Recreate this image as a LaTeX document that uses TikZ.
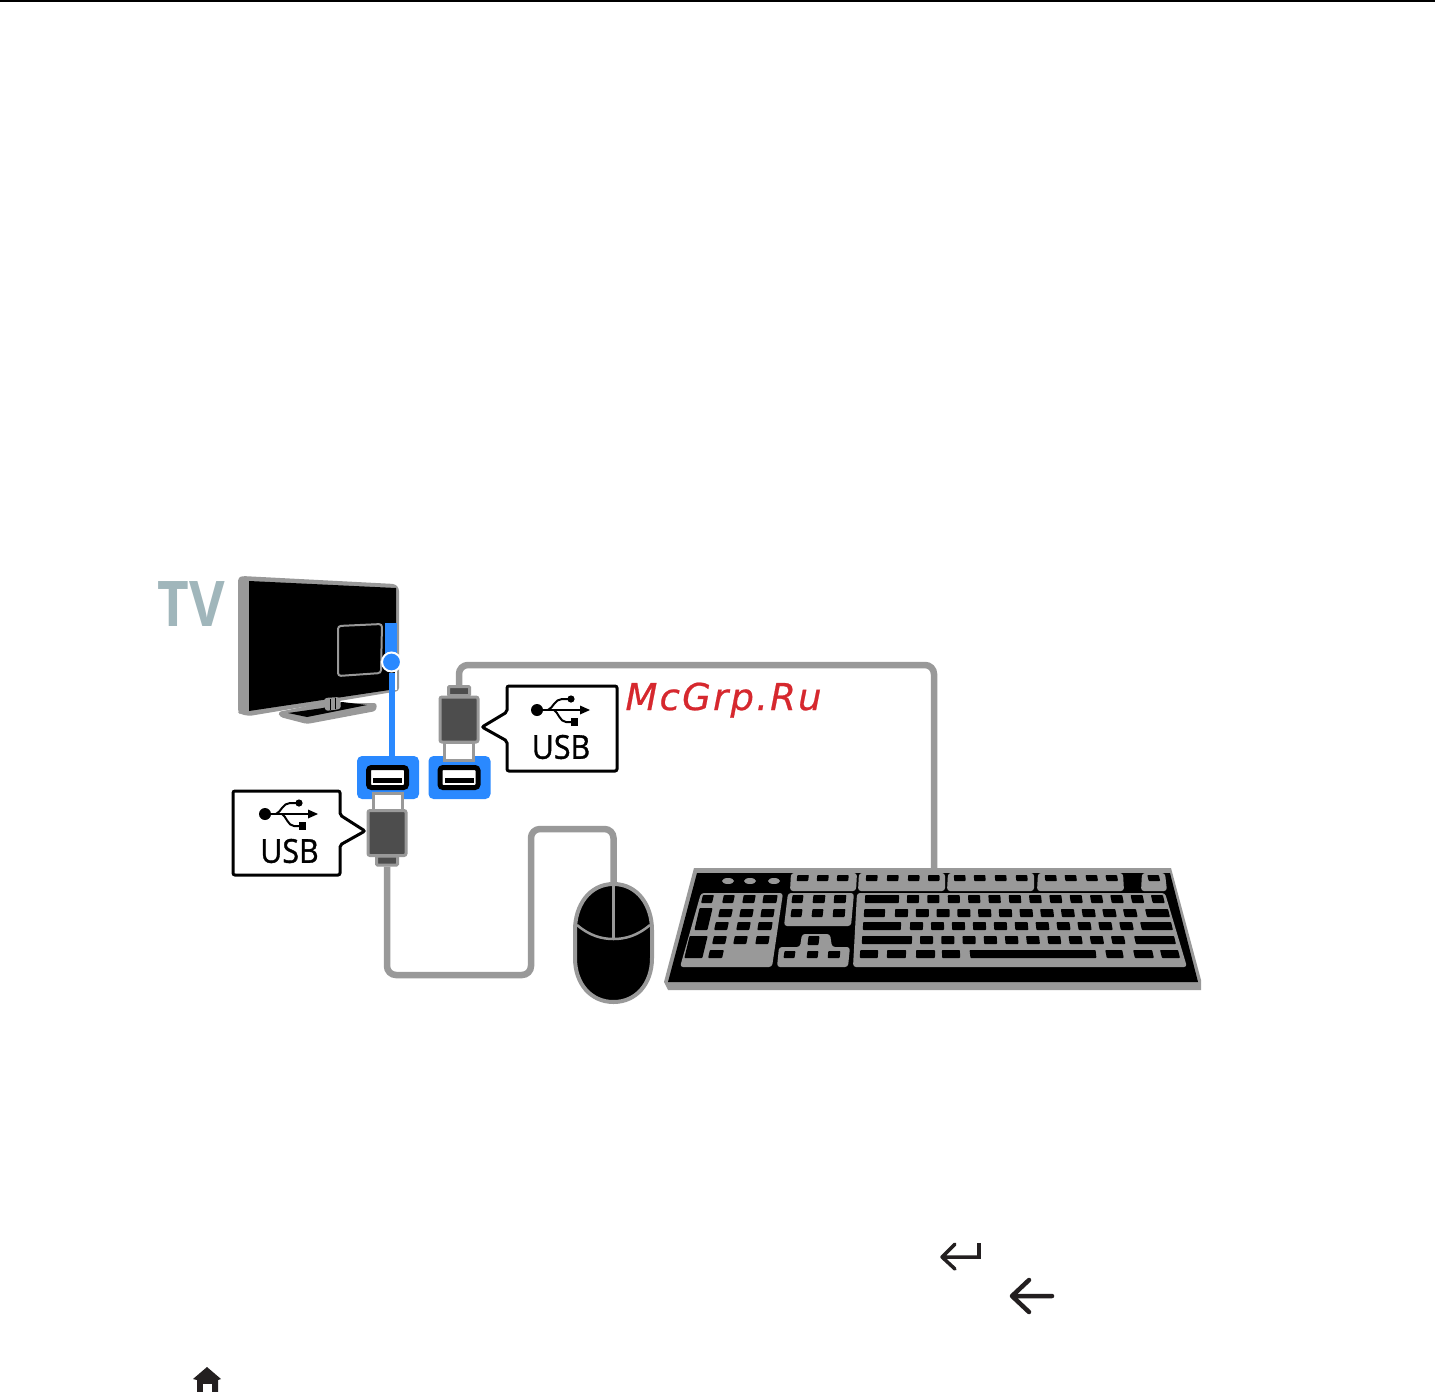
\documentclass[tikz,border=0pt]{standalone}
\usepackage{fontspec}
\setmainfont{Open Sans}
\newfontfamily\markfont[LetterSpace=6, FakeBold=0.6]{DejaVu Sans}
\newfontfamily\usbfont[FakeBold=1.2]{Open Sans}
\usetikzlibrary{shapes.geometric, arrows.meta, positioning, calc}
\definecolor{cablegray}{RGB}{153, 153, 153}
\definecolor{plugdark}{RGB}{77, 77, 77}
\definecolor{portblue}{RGB}{42, 137, 255}
\definecolor{labelgray}{RGB}{160, 182, 187}
\definecolor{markred}{RGB}{214, 40, 46}
\definecolor{icondark}{RGB}{35, 31, 32}
\tikzset{
    cable/.style={draw=cablegray, line width=6.5pt, rounded corners=9pt},
    bluewire/.style={draw=portblue, line width=6pt},
    portbox/.style={draw=none, fill=portblue, rounded corners=5pt, minimum width=62pt, minimum height=43pt, inner sep=0pt},
    socket/.style={draw=black, line width=5pt, fill=white, rounded corners=3pt, minimum width=38pt, minimum height=20pt, inner sep=0pt},
    socketbar/.style={draw=none, fill=black, minimum width=29pt, minimum height=5pt, inner sep=0pt},
    plugneck/.style={draw=cablegray, line width=3pt, fill=white, minimum width=29pt, minimum height=18pt, inner sep=0pt},
    plugbody/.style={draw=cablegray, line width=3pt, fill=plugdark, rounded corners=2pt, minimum width=38pt, minimum height=45pt, inner sep=0pt},
    plugtail/.style={draw=cablegray, line width=3pt, fill=plugdark, rounded corners=1pt, minimum width=21pt, minimum height=9pt, inner sep=0pt},
    callout/.style={draw=black, line width=3pt, fill=white, rounded corners=2pt},
    usbtext/.style={font=\usbfont\fontsize{33}{33}\selectfont, xscale=0.92, inner sep=0pt},
    kbdgray/.style={fill=cablegray, rounded corners=3pt},
    icon/.style={draw=icondark, line cap=round, line join=round},
}
\newcommand{\keycap}[4]{%
    \pgfmathsetmacro{\kxa}{#1}%
    \pgfmathsetmacro{\kxb}{#2}%
    \pgfmathsetmacro{\kskew}{((\kxa+\kxb)/2-930)/270*0.14*(#4-#3)}%
    \fill[black, rounded corners=0.8pt] (\kxa-\kskew,#3) -- (\kxb-\kskew,#3) -- (\kxb+\kskew,#4) -- (\kxa+\kskew,#4) -- cycle;%
}
\newcommand{\usbicon}[2]{%
    \begin{scope}[shift={(#1,#2)}]
        \fill[black] (0,0) circle (6);
        \draw[black, line width=2pt] (0,0) -- (46,0);
        \fill[black] (53,0) -- (43,-4.5) -- (43,4.5) -- cycle;
        \draw[black, line width=2pt] (11,0) .. controls (16,-2) and (18,-11) .. (25,-11) -- (34,-11);
        \fill[black] (34,-11) circle (3.6);
        \draw[black, line width=2pt] (17,0) .. controls (21,2) and (23,12) .. (29,12) -- (34,12);
        \fill[black] (34,8.3) rectangle (41,15.5);
    \end{scope}%
}
\begin{document}
\begin{tikzpicture}[x=1pt, y=-1pt]
    \useasboundingbox (0,0) rectangle (1435,1392);
    \fill[white] (0,0) rectangle (1435,1392);
    \fill[black] (0,0) rectangle (1435,1.5);

    % TV
    \node[text=labelgray, font=\fontsize{63}{63}\selectfont\bfseries, inner sep=0pt, xscale=0.87] (tvlabel) at (191,604) {TV};
    \fill[cablegray, rounded corners=3pt] (278,712) -- (322,703) -- (377,703) -- (376,711) -- (307,724) -- (280,717) -- cycle;
    \fill[black] (288,713) -- (323,708) -- (342,702) -- (367,705) -- (307,717) -- cycle;
    \fill[cablegray, rounded corners=3pt] (238,578) -- (242,576) -- (395,584) -- (399,588) -- (399,691) -- (249,716) -- (240,714) -- (238,712) -- cycle;
    \fill[black] (249,581) -- (396,588) -- (396,689) -- (249,711) -- cycle;
    \fill[cablegray, rounded corners=3pt] (324,698) -- (340,697) -- (341,709) -- (325,711) -- cycle;
    \draw[black, line width=1pt] (330,699) -- (330,710) (335,698) -- (335,709);
    \draw[cablegray, line width=2pt, rounded corners=3pt] (338,626) -- (382,624) -- (381,673) -- (338,676) -- cycle;
    \fill[portblue] (385,623) rectangle (397,660);

    % Ports
    \node[portbox] (porta) at (388,777.5) {};
    \node[portbox] (portb) at (459.5,777.5) {};
    \node[socket] (socketa) at (387.5,777.5) {};
    \node[socket] (socketb) at (459,777.5) {};
    \node[socketbar] (bara) at (387.5,780.5) {};
    \node[socketbar] (barb) at (459,780.5) {};

    % Blue link from the TV
    \node[circle, fill=portblue, draw=white, line width=2pt, minimum size=19pt, inner sep=0pt] (tvsocket) at (391.5,662) {};
    \draw[white, line width=2pt] (396,670) -- (396,690);
    \draw[bluewire] (tvsocket.south) -- (tvsocket.south |- porta.north);

    % Lower plug
    \node[plugtail] (tailb) at (387,860.5) {};
    \node[plugneck] (necka) at (387.5,802) {};
    \node[plugbody] (bodya) at (387,833) {};

    % Upper plug
    \node[plugtail] (taila) at (459,691) {};
    \node[plugneck] (neckb) at (458.5,751) {};
    \node[plugbody] (bodyb) at (459,719.5) {};

    % Cables
    \coordinate (mousetop) at (613.5,885);
    \coordinate (kbdtop) at (934,870);
    \coordinate (benda) at (531,975);
    \coordinate (bendb) at (531,829);
    \coordinate (bendc) at (934,665);
    \draw[cable] (tailb.south) |- (benda) -- (bendb) -| (mousetop);
    \draw[cable] (taila.north) |- (bendc) -- (kbdtop);

    % Callouts
    \draw[callout] (233,791) -- (340,791) -- (340,815) -- (365,831) -- (340,845) -- (340,875) -- (233,875) -- cycle;
    \node[usbtext] (usbtexta) at (289.5,851) {USB};
    \usbicon{265}{814}
    \draw[callout] (507,686) -- (617,686) -- (617,771) -- (507,771) -- (507,741) -- (482,727) -- (507,712) -- cycle;
    \node[usbtext] (usbtextb) at (561,747) {USB};
    \usbicon{537}{710}

    % Watermark
    \node[text=markred, font=\markfont\itshape\fontsize{37}{37}\selectfont, inner sep=0pt, anchor=base] (watermark) at (723.5,710) {McGrp.Ru};

    % Mouse
    \draw[cablegray, line width=4pt, fill=black] (613.5,884) .. controls (638,884) and (652,906) .. (652,930) -- (652,958) .. controls (652,984) and (636,1002) .. (613.5,1002) .. controls (591,1002) and (575,984) .. (575,958) -- (575,930) .. controls (575,906) and (589,884) .. (613.5,884) -- cycle;
    \draw[cablegray, line width=2.5pt] (577,925) .. controls (590,936) and (602,939) .. (613.5,939) .. controls (625,939) and (637,936) .. (650,925);
    \draw[cablegray, line width=2.5pt] (613.5,884) -- (613.5,939);

    % Keyboard
    \fill[cablegray] (694,868) -- (1171,868) -- (1201,980) -- (1201,990) -- (668,990) -- (664,982) -- cycle;
    \fill[black] (697,873) -- (1170,873) -- (1198,982) -- (668,982) -- cycle;

    % Function row
    \fill[kbdgray] (791,873) -- (857,873) -- (856,891) -- (790,891) -- cycle;
    \fill[kbdgray] (859,873) -- (945,873) -- (945,891) -- (858,891) -- cycle;
    \fill[kbdgray] (948,873) -- (1034,873) -- (1034,891) -- (947,891) -- cycle;
    \fill[kbdgray] (1038,873) -- (1123,873) -- (1124,891) -- (1037,891) -- cycle;
    \fill[kbdgray] (1142,873) -- (1165,873) -- (1167,891) -- (1141,891) -- cycle;
    \foreach \kx in {797,817,837,866,887,908,928,954,974,995,1016,1045,1065,1086,1106,1148} {
        \keycap{\kx}{\kx+11.5}{875}{881}
    }
    \foreach \kx in {728,750,774} {
        \fill[cablegray] (\kx,881) ellipse (6 and 3);
    }

    % Number block
    \fill[kbdgray] (701,893) -- (783,893) -- (772,967) -- (680,967) -- cycle;
    \foreach \kl/\kr in {702/713,723/734,743/755,763/777} {\keycap{\kl}{\kr}{895}{903}}
    \foreach \kl/\kr in {719/732,740/753,761/774} {\keycap{\kl}{\kr}{909}{917}}
    \foreach \kl/\kr in {715/728,737/750,758/772} {\keycap{\kl}{\kr}{922}{930}}
    \foreach \kl/\kr in {713/726,734/747,756/769} {\keycap{\kl}{\kr}{936}{944}}
    \keycap{709}{723}{950}{958}
    \keycap{697}{710}{908}{930}
    \keycap{687}{705}{936}{958}

    % Navigation block
    \fill[kbdgray] (788,893) -- (854,893) -- (851,926) -- (784,926) -- cycle;
    \foreach \kl/\kr in {792/803,813/825,834/846} {\keycap{\kl}{\kr}{895}{903}}
    \foreach \kl/\kr in {791/802,812/823,833/845} {\keycap{\kl}{\kr}{909}{917}}

    % Arrow block
    \fill[kbdgray] (802,934) -- (830,934) -- (832,947) -- (850,947) -- (848,967) -- (777,967) -- (779,947) -- (800,947) -- cycle;
    \keycap{808}{819}{936}{945}
    \foreach \kl/\kr in {784/795,807/818,828/840} {\keycap{\kl}{\kr}{951}{958}}

    % Main block
    \fill[kbdgray] (857,893) -- (1165,893) -- (1187,967) -- (853,967) -- cycle;
    \keycap{865}{899}{895}{903}
    \foreach \i in {0,...,12} {\keycap{907+20.4*\i}{919+20.4*\i}{895}{903}}
    \keycap{864}{885}{909}{917}
    \foreach \i in {0,...,11} {\keycap{895+20.8*\i}{908+20.8*\i}{909}{917}}
    \keycap{1146}{1169}{909}{917}
    \keycap{863}{901}{922}{930}
    \foreach \i in {0,...,10} {\keycap{910+21*\i}{923+21*\i}{922}{930}}
    \keycap{1141}{1172}{922}{930}
    \keycap{862}{912}{936}{944}
    \foreach \i in {0,...,9} {\keycap{920+21.3*\i}{933+21.3*\i}{936}{944}}
    \keycap{1135}{1175}{936}{944}
    \foreach \kl/\kr in {860/878,887/906,916/935,942/960,970/1096,1106/1123,1134/1153,1161/1179} {\keycap{\kl}{\kr}{950}{958}}

    % Icons
    \draw[icon, line width=3.5pt] (955,1244) -- (942,1257) -- (955,1269) (942,1257) -- (979,1257);
    \draw[icondark, line width=3.5pt] (979,1243) -- (979,1258.7);
    \draw[icon, line width=4.5pt] (1029,1280) -- (1012,1296) -- (1029,1312) (1012,1296) -- (1052,1296);
    \fill[icondark] (207,1367) -- (221,1379) -- (218,1380) -- (218,1392) -- (197,1392) -- (197,1380) -- (193,1379) -- cycle;
    \fill[white] (203,1384) rectangle (212,1392);
\end{tikzpicture}
\end{document}
